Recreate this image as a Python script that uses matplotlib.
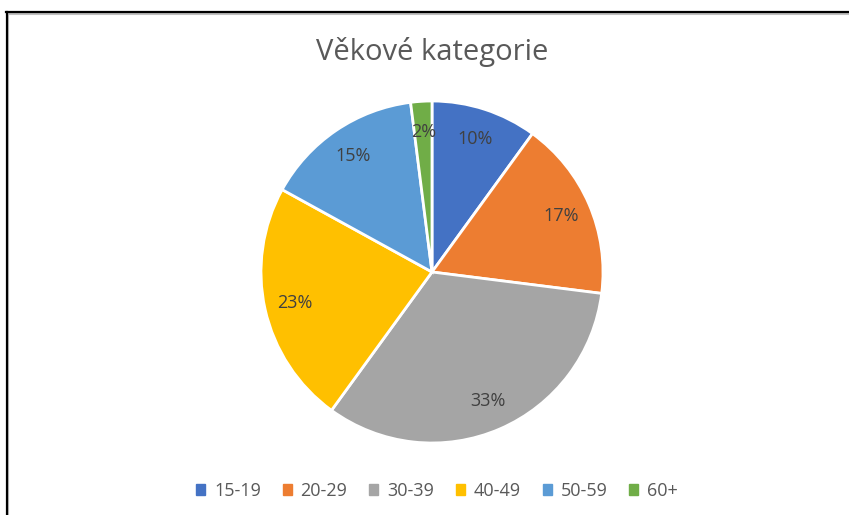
import matplotlib.pyplot as plt
from matplotlib.lines import Line2D

# Data
categories = ['15-19', '20-29', '30-39', '40-49', '50-59', '60+']
shares = [10, 17, 33, 23, 15, 2]
colors = ['#4472C4', '#ED7D31', '#A5A5A5', '#FFC000', '#5B9BD5', '#70AD47']

plt.rcParams['font.family'] = ['Open Sans', 'DejaVu Sans']

W, H = 849, 515
fig = plt.figure(figsize=(W/100, H/100), dpi=100)

# pie axes, centre (432, 272) px, radius 171 px
cx, cy, r = 432, 272, 171
ax = fig.add_axes([(cx - r)/W, (H - cy - r)/H, 2*r/W, 2*r/H])
wedges, texts, autotexts = ax.pie(
    shares, colors=colors, startangle=90, counterclock=False,
    autopct='%d%%', pctdistance=0.82,
    wedgeprops=dict(edgecolor='white', linewidth=2),
    textprops=dict(color='#404040', fontsize=13))
ax.set_xlim(-1.0, 1.0)
ax.set_ylim(-1.0, 1.0)
ax.axis('off')

fig.text(cx/W, 1 - 52/H, 'Věkové kategorie', ha='center', va='center',
         fontsize=21, color='#595959')

handles = [plt.Rectangle((0, 0), 1, 1, color=c) for c in colors]
fig.legend(handles, categories, loc='center', bbox_to_anchor=(437/W, 1 - 491/H),
           ncol=6, frameon=False, fontsize=13, handlelength=0.5, handleheight=0.5,
           handletextpad=0.5, columnspacing=1.2, labelcolor='#595959')

# frame lines from the screenshot (top and left only)
fig.add_artist(Line2D([6.5/W, 1], [1 - 13.5/H, 1 - 13.5/H], color='#c0c0c0', lw=1.5,
                      transform=fig.transFigure))
fig.add_artist(Line2D([8/W, 8/W], [0, 1 - 13/H], color='#c0c0c0', lw=1.5,
                      transform=fig.transFigure))
fig.add_artist(Line2D([6/W, 1], [1 - 12/H, 1 - 12/H], color='black', lw=1.6,
                      transform=fig.transFigure))
fig.add_artist(Line2D([6.5/W, 6.5/W], [0, 1 - 12/H], color='black', lw=1.6,
                      transform=fig.transFigure))

fig.savefig('out.png', dpi=100, facecolor='white')
